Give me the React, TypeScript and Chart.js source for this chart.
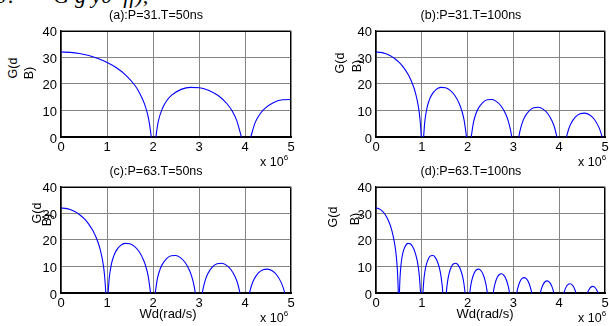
import React, { useEffect, useRef } from "react";
import { Chart, registerables } from "chart.js";
Chart.register(...registerables);

// ---- data ----
const xTicks = [0, 1, 2, 3, 4, 5];
const yTicks = [0, 10, 20, 30, 40];
const titles = ["(a):P=31.T=50ns", "(b):P=31.T=100ns", "(c):P=63.T=50ns", "(d):P=63.T=100ns"];
// spacing between nulls of each panel (x 10^6 rad/s)
const zeroSpacing = [2.01, 1.013, 0.998, 0.4987];
// lobe outlines, position in units of the null spacing, value in dB (clipped at 0)
const lobeU: number[][] = [
  [0, 0.1, 0.2, 0.3, 0.4, 0.5, 0.6, 0.7, 0.8, 0.85, 0.9, 0.93, 0.95, 0.97, 0.976],
  [1.026, 1.05, 1.1, 1.15, 1.2, 1.3, 1.4, 1.5, 1.6, 1.7, 1.8, 1.85, 1.9, 1.951],
  [2.052, 2.1, 2.15, 2.2, 2.3, 2.4, 2.5, 2.6, 2.7, 2.8, 2.85, 2.9, 2.926],
  [3.078, 3.1, 3.15, 3.2, 3.3, 3.4, 3.5, 3.6, 3.7, 3.8, 3.85, 3.9],
  [4.105, 4.15, 4.2, 4.3, 4.4, 4.5, 4.6, 4.7, 4.8, 4.85, 4.874],
  [5.133, 5.15, 5.2, 5.3, 5.4, 5.5, 5.6, 5.7, 5.8, 5.847],
  [6.162, 6.2, 6.3, 6.4, 6.5, 6.6, 6.7, 6.8, 6.818],
  [7.192, 7.2, 7.3, 7.4, 7.5, 7.6, 7.7, 7.789],
  [8.225, 8.3, 8.4, 8.5, 8.6, 8.7, 8.757],
  [9.26, 9.3, 9.4, 9.5, 9.6, 9.7, 9.722],
];
const lobeG: number[][] = [
  [32, 31.86, 31.42, 30.67, 29.58, 28.08, 26.06, 23.31, 19.38, 16.61, 12.77, 9.46, 6.39, 1.8, 0],
  [0, 5.52, 11.03, 13.98, 15.86, 17.94, 18.7, 18.54, 17.54, 15.61, 12.34, 9.86, 6.28, 0],
  [0, 5.41, 8.55, 10.59, 12.98, 14.02, 14.1, 13.32, 11.59, 8.5, 6.1, 2.61, 0],
  [0, 2.03, 5.23, 7.34, 9.85, 10.99, 11.18, 10.5, 8.85, 5.85, 3.49, 0],
  [0, 2.84, 4.98, 7.55, 8.75, 8.99, 8.37, 6.77, 3.82, 1.48, 0],
  [0, 0.96, 3.12, 5.73, 6.97, 7.25, 6.66, 5.1, 2.17, 0],
  [0, 1.59, 4.23, 5.5, 5.8, 5.23, 3.7, 0.79, 0],
  [0, 0.3, 2.95, 4.24, 4.56, 4.01, 2.49, 0],
  [0, 1.83, 3.14, 3.47, 2.93, 1.43, 0],
  [0, 0.85, 2.16, 2.5, 1.98, 0.48, 0],
];
const yLabelLines = ["G(d", "B)"];
const xLabel = "Wd(rad/s)";

// ---- layout ----
const plots = [
  { l: 61, t: 25, w: 230, h: 112 },
  { l: 376, t: 25, w: 229, h: 112 },
  { l: 61, t: 181, w: 230, h: 112 },
  { l: 376, t: 181, w: 229, h: 112 },
];
const PAD_L = 30, PAD_T = 6, PAD_R = 8, PAD_B = 22;
const FONT = "'Liberation Sans', Arial, sans-serif";

const framePlugin = {
  id: "frame",
  afterDraw(chart: any) {
    const { ctx, chartArea: a } = chart;
    ctx.save();
    ctx.strokeStyle = "#000";
    ctx.lineWidth = 1;
    ctx.beginPath();
    const l = Math.round(a.left), r = Math.round(a.right) - 0.5, t = Math.round(a.top) + 0.5, b = Math.round(a.bottom);
    ctx.moveTo(l, t);
    ctx.lineTo(r, t);
    ctx.lineTo(r, b);
    ctx.stroke();
    ctx.restore();
  },
};

function Panel({ idx }: { idx: number }) {
  const ref = useRef<HTMLCanvasElement | null>(null);
  const p = plots[idx];
  const W = p.w + PAD_L + PAD_R;
  const H = p.h + PAD_T + PAD_B;
  useEffect(() => {
    const s = zeroSpacing[idx];
    const data: { x: number; y: number | null }[] = [];
    lobeU.forEach((us, k) => {
      us.forEach((u, j) => data.push({ x: u * s, y: lobeG[k][j] }));
      data.push({ x: us[us.length - 1] * s + 0.001, y: null });
    });
    const chart = new Chart(ref.current as HTMLCanvasElement, {
      type: "line",
      data: {
        datasets: [
          {
            data: data as any,
            borderColor: "#0000ff",
            borderWidth: 1.1,
            pointRadius: 0,
            cubicInterpolationMode: "monotone",
            spanGaps: false,
            fill: false,
          },
        ],
      },
      options: {
        animation: false,
        responsive: false,
        maintainAspectRatio: false,
        devicePixelRatio: 1,
        events: [],
        layout: { padding: { top: PAD_T, right: PAD_R, left: 0, bottom: 0 } },
        plugins: { legend: { display: false }, tooltip: { enabled: false }, title: { display: false } },
        scales: {
          x: {
            type: "linear",
            min: 0,
            max: 5,
            afterBuildTicks: (sc: any) => {
              sc.ticks = xTicks.map((v) => ({ value: v }));
            },
            afterFit: (sc: any) => {
              sc.height = PAD_B;
            },
            grid: { color: "#858585", lineWidth: 1, drawTicks: false },
            border: { color: "#000", width: 2 },
            ticks: { font: { family: FONT, size: 13 }, color: "#000", padding: 3, maxRotation: 0, autoSkip: false },
          },
          y: {
            type: "linear",
            min: 0,
            max: 40,
            afterBuildTicks: (sc: any) => {
              sc.ticks = yTicks.map((v) => ({ value: v }));
            },
            afterFit: (sc: any) => {
              sc.width = PAD_L;
            },
            grid: { color: "#858585", lineWidth: 1, drawTicks: false },
            border: { color: "#000", width: 1.5 },
            ticks: { font: { family: FONT, size: 13 }, color: "#000", padding: 4, labelOffset: 2, autoSkip: false },
          },
        },
      },
      plugins: [framePlugin],
    } as any);
    return () => chart.destroy();
  }, [idx]);
  return (
    <canvas
      ref={ref}
      width={W}
      height={H}
      style={{ position: "absolute", left: p.l - PAD_L, top: p.t - PAD_T, width: W, height: H, display: "block" }}
    />
  );
}

const txt = (extra: React.CSSProperties): React.CSSProperties => ({
  position: "absolute",
  fontFamily: FONT,
  color: "#000",
  whiteSpace: "nowrap",
  lineHeight: 1,
  ...extra,
});

const titlePos = [
  { x: 156, y: 15 },
  { x: 471, y: 15 },
  { x: 156, y: 171 },
  { x: 471, y: 171 },
];
const yLab = [
  { a: { x: 13, y: 68 }, b: { x: 29, y: 73 } },
  { a: { x: 340, y: 63 }, b: { x: 357, y: 66 } },
  { a: { x: 37, y: 213 }, b: { x: 47, y: 220 } },
  { a: { x: 333, y: 217 }, b: { x: 355, y: 219 } },
];
const expPos = [
  { x: 260, y: 156 },
  { x: 578, y: 156 },
  { x: 260, y: 312 },
  { x: 578, y: 312 },
];

export default function App() {
  return (
    <div style={{ position: "fixed", left: 0, top: 0, width: 609, height: 326, overflow: "hidden", background: "#fff" }}>
      <div
        style={{
          position: "absolute",
          left: -2,
          top: -15,
          fontFamily: "'Liberation Serif', serif",
          fontStyle: "italic",
          fontSize: 22,
          lineHeight: "22px",
          whiteSpace: "pre",
          color: "#000",
        }}
      >
        {"J:       G g y0  ff),  "}
      </div>
      {plots.map((_, i) => (
        <Panel key={i} idx={i} />
      ))}
      {titles.map((t, i) => (
        <div key={"t" + i} style={txt({ left: titlePos[i].x, top: titlePos[i].y, fontSize: 12.5, transform: "translate(-50%,-50%)" })}>
          {t}
        </div>
      ))}
      {yLab.map((q, i) => (
        <React.Fragment key={"y" + i}>
          <div style={txt({ left: q.a.x, top: q.a.y, fontSize: 12.5, transform: "translate(-50%,-50%) rotate(-90deg)" })}>
            {yLabelLines[0]}
          </div>
          <div style={txt({ left: q.b.x, top: q.b.y, fontSize: 12.5, transform: "translate(-50%,-50%) rotate(-90deg)" })}>
            {yLabelLines[1]}
          </div>
        </React.Fragment>
      ))}
      {expPos.map((e, i) => (
        <div key={"e" + i} style={txt({ left: e.x, top: e.y, fontSize: 12.5 })}>
          x 10<span style={{ fontSize: 8, position: "relative", top: -6 }}>6</span>
        </div>
      ))}
      <div style={txt({ left: 168, top: 313, fontSize: 13, transform: "translate(-50%,-50%)" })}>{xLabel}</div>
      <div style={txt({ left: 485, top: 313, fontSize: 13, transform: "translate(-50%,-50%)" })}>{xLabel}</div>
    </div>
  );
}
